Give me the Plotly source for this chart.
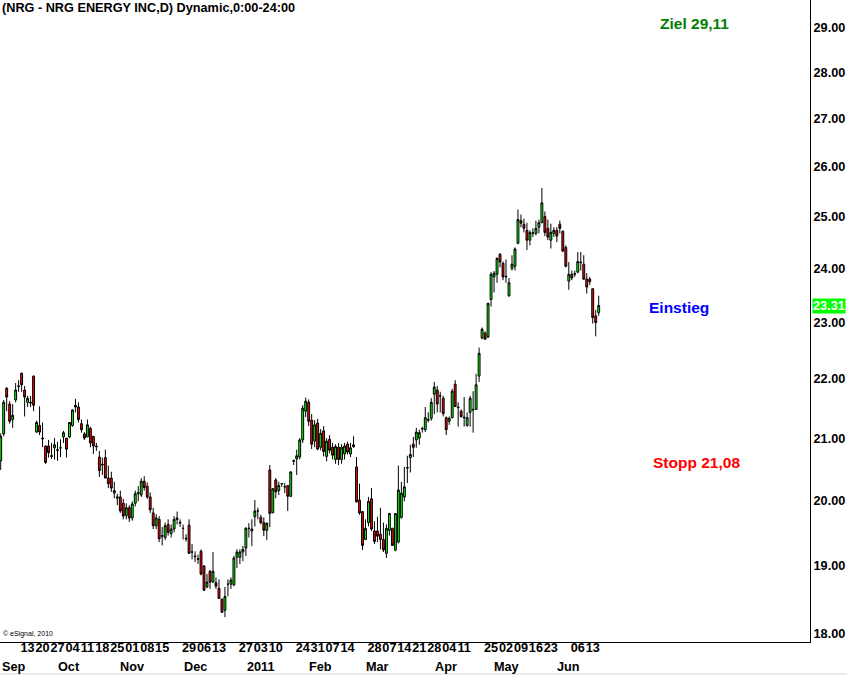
import math
import pandas as pd
import plotly.graph_objects as go

# ---------------- data ----------------
holidays = ['2010-09-06', '2010-11-25', '2010-12-24', '2011-01-17',
            '2011-02-21', '2011-04-22', '2011-05-30']
trading_days = [d for d in pd.bdate_range('2010-08-30', '2011-06-15')
                if d.strftime('%Y-%m-%d') not in holidays]

open_ = [20.63, 21.07, 21.84, 21.57, 21.31, 21.64, 21.87, 22.10, 21.81, 21.60,
         21.60, 22.05, 21.10, 21.21, 21.00, 20.87, 20.87, 20.70, 20.84, 20.81,
         20.84, 21.02, 21.00, 21.02, 21.21, 21.55, 21.52, 21.24, 21.07, 21.02,
         21.16, 21.03, 20.87, 20.69, 20.56, 20.68, 20.35, 20.35, 20.11, 20.03,
         20.05, 19.95, 19.76, 19.88, 19.72, 19.95, 20.10, 20.08, 20.30, 20.22,
         20.05, 19.80, 19.60, 19.70, 19.45, 19.42, 19.62, 19.48, 19.55, 19.72,
         19.64, 19.56, 19.41, 19.61, 19.20, 19.14, 19.10, 19.21, 18.99, 18.68,
         18.91, 18.75, 18.74, 18.66, 18.50, 18.34, 18.72, 18.72, 18.71, 19.12,
         19.12, 19.20, 19.26, 19.56, 19.52, 19.74, 19.83, 19.73, 19.65, 19.53,
         20.48, 19.80, 20.32, 20.15, 20.26, 20.21, 20.23, 20.06, 20.62, 20.66,
         20.69, 20.97, 21.45, 21.60, 21.30, 20.95, 21.25, 20.85, 21.12, 20.70,
         20.98, 20.85, 20.65, 20.85, 20.65, 20.74, 20.90, 20.74, 20.86, 20.53,
         20.00, 19.82, 19.39, 19.65, 20.02, 19.52, 19.52, 19.47, 19.39, 19.18,
         19.53, 19.56, 19.23, 19.35, 19.73, 20.05, 20.51, 20.68, 20.90, 20.97,
         21.00, 21.15, 21.14, 21.31, 21.33, 21.74, 21.81, 21.71, 21.67, 21.34,
         21.28, 21.34, 21.91, 21.52, 21.45, 21.35, 21.21, 21.43, 21.47, 21.48,
         22.05, 22.72, 22.81, 22.74, 23.42, 23.84, 23.89, 24.27, 24.10, 23.84,
         23.49, 24.00, 24.04, 24.48, 24.92, 24.85, 24.73, 24.54, 24.67, 24.67,
         24.79, 24.88, 25.00, 24.77, 24.54, 24.67, 24.73, 24.85, 24.71, 24.40,
         23.76, 23.89, 23.89, 23.93, 24.12, 24.08, 23.80, 23.80, 23.62, 23.12,
         23.18]
high = [21.08, 21.64, 21.86, 21.62, 21.57, 21.93, 21.98, 22.11, 21.88, 21.71,
        21.71, 22.06, 21.29, 21.53, 21.26, 20.88, 20.97, 20.92, 21.00, 20.94,
        20.98, 21.12, 21.00, 21.26, 21.48, 21.66, 21.60, 21.31, 21.10, 21.31,
        21.19, 21.03, 20.92, 20.79, 20.68, 20.81, 20.55, 20.45, 20.29, 20.10,
        20.15, 20.02, 19.95, 19.92, 19.98, 20.15, 20.22, 20.35, 20.38, 20.28,
        20.12, 19.88, 19.78, 19.75, 19.58, 19.65, 19.70, 19.62, 19.75, 19.82,
        19.70, 19.62, 19.47, 19.70, 19.32, 19.21, 19.16, 19.24, 19.00, 18.87,
        18.93, 19.20, 18.82, 18.79, 18.51, 18.68, 18.79, 18.82, 19.14, 19.24,
        19.24, 19.29, 19.58, 19.64, 19.70, 20.00, 19.88, 19.77, 19.73, 19.65,
        20.56, 20.19, 20.35, 20.29, 20.27, 20.27, 20.23, 20.45, 20.65, 20.81,
        21.00, 21.55, 21.68, 21.65, 21.40, 21.30, 21.32, 21.15, 21.20, 21.00,
        21.05, 20.92, 20.90, 20.92, 20.90, 20.92, 20.94, 20.92, 21.03, 20.69,
        20.26, 19.83, 19.70, 20.05, 20.19, 19.67, 19.74, 19.88, 19.65, 19.62,
        19.80, 19.57, 19.79, 20.55, 20.29, 20.53, 20.71, 20.89, 21.02, 21.17,
        21.14, 21.19, 21.52, 21.43, 21.67, 21.95, 21.88, 21.78, 21.71, 21.36,
        21.36, 21.83, 21.98, 21.60, 21.48, 21.69, 21.43, 21.71, 21.79, 22.09,
        22.55, 22.91, 22.84, 23.36, 23.93, 23.95, 24.21, 24.29, 24.13, 24.17,
        23.82, 24.25, 24.40, 25.14, 25.04, 24.96, 24.88, 24.73, 24.77, 24.92,
        24.94, 25.57, 25.10, 24.94, 24.86, 24.79, 24.79, 24.92, 24.73, 24.44,
        24.12, 23.96, 23.96, 24.31, 24.31, 24.25, 23.91, 23.84, 23.62, 23.23,
        23.49]
low = [20.48, 21.03, 21.45, 21.24, 21.17, 21.60, 21.78, 21.78, 21.36, 21.52,
       21.52, 21.45, 21.09, 21.05, 20.85, 20.58, 20.68, 20.66, 20.65, 20.63,
       20.69, 20.92, 20.68, 21.00, 21.19, 21.43, 21.26, 21.09, 20.97, 21.02,
       20.85, 20.74, 20.79, 20.37, 20.40, 20.35, 20.19, 20.13, 20.03, 19.92,
       19.80, 19.70, 19.70, 19.66, 19.68, 19.90, 19.98, 20.05, 20.15, 20.02,
       19.80, 19.55, 19.55, 19.35, 19.30, 19.38, 19.45, 19.42, 19.50, 19.62,
       19.58, 19.39, 19.36, 19.17, 19.09, 19.05, 19.02, 18.85, 18.62, 18.66,
       18.65, 18.74, 18.65, 18.51, 18.30, 18.24, 18.54, 18.65, 18.69, 18.96,
       19.02, 19.06, 19.14, 19.42, 19.29, 19.59, 19.70, 19.62, 19.44, 19.38,
       19.58, 19.80, 20.03, 20.08, 20.21, 20.11, 19.83, 20.05, 20.56, 20.40,
       20.65, 20.92, 21.35, 21.20, 20.82, 20.85, 20.80, 20.80, 20.70, 20.62,
       20.75, 20.65, 20.58, 20.56, 20.58, 20.65, 20.73, 20.69, 20.84, 19.97,
       19.77, 19.23, 19.38, 19.59, 19.52, 19.32, 19.35, 19.24, 19.20, 19.11,
       19.45, 19.30, 19.21, 19.33, 19.71, 19.98, 20.27, 20.44, 20.69, 20.84,
       20.89, 21.09, 21.10, 21.26, 21.29, 21.40, 21.43, 21.43, 21.36, 21.05,
       21.22, 21.33, 21.53, 21.19, 21.34, 21.19, 21.19, 21.19, 21.09, 21.47,
       21.95, 22.70, 22.70, 22.72, 23.29, 23.55, 23.73, 24.02, 23.78, 23.73,
       23.47, 23.96, 23.96, 24.46, 24.79, 24.69, 24.35, 24.44, 24.60, 24.63,
       24.67, 24.87, 24.62, 24.54, 24.38, 24.60, 24.50, 24.67, 24.31, 24.02,
       23.60, 23.78, 23.84, 23.91, 23.96, 23.78, 23.53, 23.69, 22.98, 22.75,
       23.12]
close = [21.03, 21.60, 21.69, 21.28, 21.38, 21.81, 21.88, 21.90, 21.69, 21.67,
         21.59, 21.55, 21.26, 21.10, 20.99, 20.60, 20.76, 20.71, 20.89, 20.80,
         20.84, 21.09, 20.82, 21.26, 21.47, 21.52, 21.31, 21.14, 21.00, 21.22,
         20.92, 20.87, 20.86, 20.47, 20.57, 20.35, 20.26, 20.19, 20.15, 20.05,
         19.83, 19.75, 19.88, 19.72, 19.94, 20.10, 20.12, 20.30, 20.20, 20.05,
         19.85, 19.60, 19.72, 19.40, 19.44, 19.60, 19.50, 19.55, 19.70, 19.70,
         19.65, 19.56, 19.40, 19.18, 19.20, 19.13, 19.09, 18.87, 18.63, 18.75,
         18.75, 18.91, 18.69, 18.51, 18.31, 18.54, 18.72, 18.78, 19.11, 19.20,
         19.20, 19.24, 19.56, 19.56, 19.55, 19.83, 19.83, 19.65, 19.53, 19.64,
         19.79, 20.18, 20.13, 20.23, 20.26, 20.21, 20.06, 20.45, 20.63, 20.71,
         20.97, 21.50, 21.62, 21.28, 20.90, 21.22, 20.82, 21.08, 20.78, 20.95,
         20.80, 20.72, 20.86, 20.65, 20.85, 20.87, 20.77, 20.84, 20.89, 19.97,
         19.80, 19.30, 19.56, 19.98, 19.55, 19.36, 19.44, 19.39, 19.23, 19.56,
         19.79, 19.30, 19.79, 20.16, 20.11, 20.21, 20.52, 20.73, 20.85, 21.10,
         21.09, 21.16, 21.34, 21.30, 21.60, 21.86, 21.57, 21.71, 21.41, 21.14,
         21.33, 21.79, 21.53, 21.51, 21.36, 21.34, 21.34, 21.67, 21.48, 21.90,
         22.45, 22.88, 22.70, 23.35, 23.89, 23.91, 24.19, 24.12, 23.84, 23.85,
         23.73, 24.08, 24.37, 24.94, 24.87, 24.77, 24.54, 24.69, 24.68, 24.77,
         24.88, 25.27, 24.69, 24.60, 24.69, 24.73, 24.62, 24.77, 24.33, 24.04,
         23.89, 23.82, 23.90, 24.13, 24.11, 23.80, 23.65, 23.75, 23.09, 23.00,
         23.31]

week_label_dates = ['2010-09-13', '2010-09-20', '2010-09-27', '2010-10-04', '2010-10-11',
                    '2010-10-18', '2010-10-25', '2010-11-01', '2010-11-08', '2010-11-15',
                    '2010-11-29', '2010-12-06', '2010-12-13', '2010-12-27', '2011-01-03',
                    '2011-01-10', '2011-01-24', '2011-01-31', '2011-02-07', '2011-02-14',
                    '2011-02-28', '2011-03-07', '2011-03-14', '2011-03-21', '2011-03-28',
                    '2011-04-04', '2011-04-11', '2011-04-25', '2011-05-02', '2011-05-09',
                    '2011-05-16', '2011-05-23', '2011-06-06', '2011-06-13']
month_labels = ['Sep', 'Oct', 'Nov', 'Dec', '2011', 'Feb', 'Mar', 'Apr', 'May', 'Jun']
month_label_dates = ['2010-09-01', '2010-10-01', '2010-11-01', '2010-12-01', '2011-01-03',
                     '2011-02-01', '2011-03-01', '2011-04-01', '2011-05-02', '2011-06-01']
price_ticks = [18, 19, 20, 21, 22, 23, 24, 25, 26, 27, 28, 29]
last_price = 23.31
target_price, entry_price, stop_price = 29.11, 23.27, 20.60
target_text, entry_text, stop_text = 'Ziel 29,11', 'Einstieg', 'Stopp 21,08'

# ---------------- figure ----------------
n = len(close)
trading_days = trading_days[:n]
pos = {d.strftime('%Y-%m-%d'): i for i, d in enumerate(trading_days)}
xs = list(range(n))

FONT = 'Liberation Sans, Arial, sans-serif'
SMALL = 12.7

fig = go.Figure()
fig.add_trace(go.Candlestick(
    x=xs, open=open_, high=high, low=low, close=close,
    increasing=dict(line=dict(color='black', width=1), fillcolor='#00ff00'),
    decreasing=dict(line=dict(color='black', width=1), fillcolor='#ff0000'),
    whiskerwidth=0, showlegend=False, hoverinfo='skip'))

X0, X1 = -0.234, 270.67
annotations = []
# title
annotations.append(dict(text='(NRG - NRG ENERGY INC,D) Dynamic,0:00-24:00',
                        xref='paper', yref='paper', x=0, y=1, xanchor='left', yanchor='top',
                        yshift=1, showarrow=False,
                        font=dict(family=FONT, size=SMALL, color='black', weight='bold')))
# month row
for k, (lab, d) in enumerate(zip(month_labels, month_label_dates)):
    if k == 0:
        annotations.append(dict(text=lab, xref='paper', yref='paper', x=0, y=-0.0383,
                                xanchor='left', yanchor='middle', showarrow=False,
                                font=dict(family=FONT, size=SMALL, color='black', weight='bold')))
    else:
        annotations.append(dict(text=lab, xref='x', yref='paper', x=pos[d], y=-0.0383,
                                xanchor='center', yanchor='middle', showarrow=False,
                                font=dict(family=FONT, size=SMALL, color='black', weight='bold')))
# trade levels
for txt, val, col, xc in [(target_text, target_price, '#008000', 232),
                          (entry_text, entry_price, '#0000ff', 227),
                          (stop_text, stop_price, '#ff0000', 232.6)]:
    annotations.append(dict(text=txt, xref='x', yref='y', x=xc, y=math.log10(val),
                            xanchor='center', yanchor='middle', showarrow=False,
                            font=dict(family=FONT, size=15.5, color=col, weight='bold')))
# last price box
annotations.append(dict(text=f'{last_price:.2f}', xref='paper', yref='y', x=1, y=math.log10(last_price),
                        xanchor='left', yanchor='middle', xshift=2, showarrow=False,
                        bgcolor='#00ff00', borderpad=0,
                        font=dict(family=FONT, size=SMALL, color='white', weight='bold')))
# copyright
annotations.append(dict(text='© eSignal, 2010', xref='paper', yref='paper', x=0, y=0.0125,
                        xanchor='left', yanchor='middle', xshift=1, showarrow=False,
                        font=dict(family=FONT, size=7, color='black')))

fig.update_layout(
    width=847, height=676,
    margin=dict(l=0, r=37, t=0, b=34),
    paper_bgcolor='white', plot_bgcolor='white',
    boxgap=0.1,
    showlegend=False,
    annotations=annotations,
    shapes=[dict(type='line', xref='paper', yref='paper', x0=0, x1=847 / 810,
                 y0=-32 / 642, y1=-32 / 642, line=dict(color='#cfd6cf', width=1))],
    xaxis=dict(range=[X0, X1], rangeslider=dict(visible=False), showgrid=False, zeroline=False,
               showline=True, linecolor='black', linewidth=1, ticks='',
               tickvals=[pos[d] for d in week_label_dates],
               ticktext=[d[-2:] for d in week_label_dates],
               tickangle=0,
               ticklabelstandoff=-6,
               tickfont=dict(family=FONT, size=SMALL, color='black', weight='bold'),
               fixedrange=True),
    yaxis=dict(type='log', range=[math.log10(17.887), math.log10(29.645)], side='right',
               showgrid=False, zeroline=False, showline=True, linecolor='black', linewidth=1,
               ticks='', tickvals=price_ticks, ticktext=[f'{v:.2f}' for v in price_ticks],
               tickfont=dict(family=FONT, size=SMALL, color='black', weight='bold'),
               fixedrange=True),
)

fig.write_html('out.html', config={'displayModeBar': False},
               post_script="document.body.style.margin='0';document.body.style.overflow='hidden';")
